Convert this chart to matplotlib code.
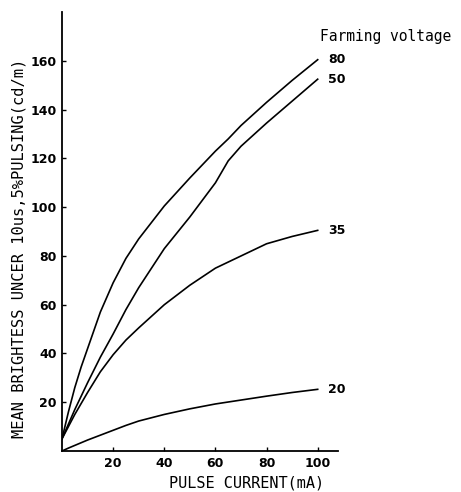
import matplotlib
matplotlib.use("Agg")
import matplotlib.pyplot as plt

# pulse current (mA) and mean brightness (cd/m) for each farming voltage
current = [0, 2.5, 5, 7.5, 10, 15, 20, 25, 30, 40, 50, 60, 65, 70, 80, 90, 100]
v80 = [5, 16, 26, 34.5, 42, 57, 69, 79, 87, 100.5, 112, 123, 128, 133.5, 143, 152, 160.5]
v50 = [5, 11, 17, 22.5, 28, 38.5, 48, 58, 67, 83, 96, 110, 119, 125, 134.5, 143.5, 152.5]
v35 = [5, 10, 15, 19.5, 24, 32.5, 39.5, 45.5, 50.5, 60, 68, 75, 77.5, 80, 85, 88, 90.5]
v20 = [0, 1.2, 2.3, 3.4, 4.5, 6.5, 8.5, 10.5, 12.3, 15, 17.3, 19.3, 20.1, 20.9, 22.5, 24, 25.3]

series = [("80", v80), ("50", v50), ("35", v35), ("20", v20)]
x_ticks = [20, 40, 60, 80, 100]
y_ticks = [20, 40, 60, 80, 100, 120, 140, 160]

fig = plt.figure(figsize=(4.61, 4.92), dpi=100)
ax = fig.add_axes([0.1345, 0.0833, 0.599, 0.892])

for name, vals in series:
    ax.plot(current, vals, color="black", lw=1.2, solid_joinstyle="round")
    ax.text(current[-1] + 4, vals[-1], name, fontsize=9, fontweight="bold",
            va="center", ha="left", family="DejaVu Sans")

ax.text(0.935, 0.945, "Farming voltage", transform=ax.transAxes, fontsize=10.5,
        family="DejaVu Sans Mono", ha="left", va="center")

ax.set_xlim(0, 108)
ax.set_ylim(0, 180)
ax.set_xticks(x_ticks)
ax.set_yticks(y_ticks)
for lab in ax.get_xticklabels() + ax.get_yticklabels():
    lab.set_fontweight("bold")
    lab.set_fontsize(9)
ax.tick_params(direction="in", length=3, width=1, pad=4)

ax.spines["top"].set_visible(False)
ax.spines["right"].set_visible(False)
ax.spines["left"].set_linewidth(1.3)
ax.spines["bottom"].set_linewidth(1.3)

ax.set_xlabel("PULSE CURRENT(mA)", family="DejaVu Sans Mono", fontsize=11,
              labelpad=2)
ax.xaxis.set_label_coords(0.67, -0.055)
ax.set_ylabel("MEAN BRIGHTESS UNCER 10us,5%PULSING(cd/m)", family="DejaVu Sans Mono",
              fontsize=11.1)
ax.yaxis.set_label_coords(-0.13, 0.462)

fig.savefig("out.png", dpi=100)
